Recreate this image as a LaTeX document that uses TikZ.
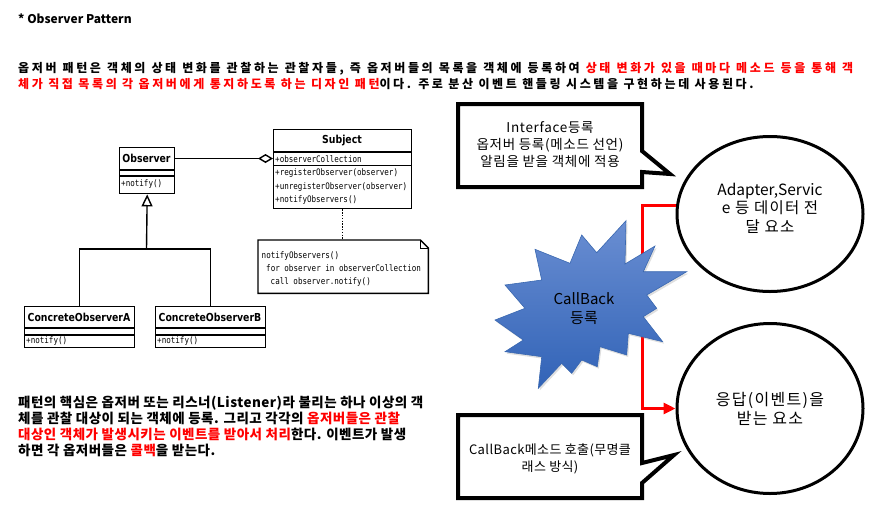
\documentclass[tikz,border=0pt]{standalone}
\usepackage{fontspec}
\setmainfont{Noto Sans CJK KR}
\newfontfamily\umlsans[FakeStretch=0.85]{DejaVu Sans}
\newfontfamily\umlmono[FakeStretch=0.84]{DejaVu Sans Mono}
\usetikzlibrary{arrows.meta,shapes.geometric,shadows,calc}

\definecolor{hilite}{HTML}{FF0000}
\definecolor{starTop}{HTML}{6A8ED2}
\definecolor{starBot}{HTML}{3163B7}
\definecolor{starEdge}{HTML}{3A68B0}

\begin{document}
\begin{tikzpicture}[x=1pt,y=-1pt,
  umlline/.style={line width=1.4pt},
  umlbox/.style={draw, line width=1.4pt, rectangle, inner sep=0pt, anchor=north west},
  umltitle/.style={font=\umlsans\bfseries\fontsize{11}{13}\selectfont, inner sep=0pt},
  umlmember/.style={font=\umlmono\fontsize{9}{13}\selectfont, inner sep=0pt, anchor=west, align=left},
  introline/.style={font=\bfseries\fontsize{12}{16}\selectfont\addfontfeature{LetterSpace=22}, inner sep=0pt, anchor=base west},
  bodyline/.style={font=\bfseries\fontsize{13.5}{16}\selectfont\addfontfeature{LetterSpace=3.5}, inner sep=0pt, anchor=base west},
  callbox/.style={line width=4pt, line join=miter},
  calltext/.style={font=\fontsize{13.5}{17}\selectfont\addfontfeature{LetterSpace=5}, align=center, inner sep=0pt},
  bubble/.style={draw, ellipse, line width=3pt, inner sep=0pt},
  bubbletext/.style={font=\fontsize{15.5}{18.5}\selectfont, align=center, inner sep=0pt},
  linkline/.style={draw=hilite, line width=3pt, line join=miter, -{Triangle[length=12pt,width=11pt]}}
]
\useasboundingbox (0,0) rectangle (892,504);

% ---------------- heading and description ----------------
\node[font=\bfseries\fontsize{12}{14}\selectfont, inner sep=0pt, anchor=base west] (title) at (18,23.5) {* Observer Pattern};

\node[introline] (p1a) at (18,72) {\makebox[835pt][s]{옵저버 패턴은 객체의 상태 변화를 관찰하는 관찰자들, 즉 옵저버들의 목록을 객체에 등록하여 {\color{hilite}상태 변화가 있을 때마다 메소드 등을 통해 객}}};
\node[introline] (p1b) at (18,88) {{\color{hilite}체가 직접 목록의 각 옵저버에게 통지하도록 하는 디자인 패턴}이다. 주로 분산 이벤트 핸들링 시스템을 구현하는데 사용된다.};

% ---------------- UML class diagram ----------------
% Observer
\node[umlbox, minimum width=55pt, minimum height=46pt] (obs) at (119,147) {};
\draw[umlline] ($(obs.north west)+(0,23)$) -- ($(obs.north east)+(0,23)$);
\draw[umlline] ($(obs.north west)+(0,29)$) -- ($(obs.north east)+(0,29)$);
\node[umltitle] (obsT) at (146.5,158.5) {Observer};
\node[umlmember] (obsM) at (121,184.5) {+notify()};

% Subject
\node[umlbox, minimum width=138pt, minimum height=79pt] (subj) at (273,129) {};
\draw[umlline] ($(subj.north west)+(0,23)$) -- ($(subj.north east)+(0,23)$);
\draw[umlline] ($(subj.north west)+(0,36.5)$) -- ($(subj.north east)+(0,36.5)$);
\node[umltitle] (subjT) at (342,140.5) {Subject};
\node[umlmember] (subjA) at (275,159) {+observerCollection};
\node[umlmember] (subjM1) at (275,173.5) {+registerObserver(observer)};
\node[umlmember] (subjM2) at (275,187.5) {+unregisterObserver(observer)};
\node[umlmember] (subjM3) at (275,200.5) {+notifyObservers()};

% concrete observers
\node[umlbox, minimum width=110pt, minimum height=41pt] (cA) at (24,306) {};
\draw[umlline] ($(cA.north west)+(0,22)$) -- ($(cA.north east)+(0,22)$);
\draw[umlline] ($(cA.north west)+(0,29)$) -- ($(cA.north east)+(0,29)$);
\node[umltitle] (cAT) at (79,317) {ConcreteObserverA};
\node[umlmember] (cAM) at (26,341.5) {+notify()};

\node[umlbox, minimum width=110pt, minimum height=41pt] (cB) at (155,306) {};
\draw[umlline] ($(cB.north west)+(0,22)$) -- ($(cB.north east)+(0,22)$);
\draw[umlline] ($(cB.north west)+(0,29)$) -- ($(cB.north east)+(0,29)$);
\node[umltitle] (cBT) at (210,317) {ConcreteObserverB};
\node[umlmember] (cBM) at (157,341.5) {+notify()};

% aggregation Subject <>- Observer
\draw[umlline, -{Diamond[open,length=15pt,width=9pt]}] (obs.east |- obsT) -- (subj.west |- obsT);

% generalisation
\coordinate (jn) at (146.5,249);
\draw[umlline] (cA.north) |- (jn) -| (cB.north);
\draw[umlline, -{Triangle[open,length=12pt,width=11pt]}] (jn) -- (obs.south);

% note attached to Subject
\node[inner sep=0pt, minimum width=170pt, minimum height=53pt, anchor=north west] (note) at (258,240) {};
\draw[umlline, line join=miter] (note.north west) -- ($(note.north east)+(-8,0)$) -- ($(note.north east)+(0,8)$) -- (note.south east) -- (note.south west) -- cycle;
\draw[line width=0.7pt] ($(note.north east)+(-8,0)$) -- ($(note.north east)+(-8,8)$) -- ($(note.north east)+(0,8)$);
\draw[line width=1.4pt, dash pattern=on 1.4pt off 1.4pt] (subj.south) -- (subj.south |- note.north);
\node[umlmember, anchor=north west] (noteT) at (261.5,251) {notifyObservers()\\\hspace*{4.5pt}for observer in observerCollection\\\hspace*{9pt}call observer.notify()};

% closing description
\node[bodyline] (p2a) at (18,407) {패턴의 핵심은 옵저버 또는 리스너(Listener)라 불리는 하나 이상의 객};
\node[bodyline] (p2b) at (18,423) {체를 관찰 대상이 되는 객체에 등록. 그리고 각각의 {\color{hilite}옵저버들은 관찰}};
\node[bodyline] (p2c) at (18,439) {{\color{hilite}대상인 객체가 발생시키는 이벤트를 받아서 처리}한다. 이벤트가 발생};
\node[bodyline] (p2d) at (18,455) {하면 각 옵저버들은 {\color{hilite}콜백}을 받는다.};

% ---------------- callback sketch ----------------
\node[bubble, minimum width=186pt, minimum height=155pt] (c1) at (770,214) {};
\node[bubbletext] (c1t) at (770,208) {Adapter,Servic\\{\addfontfeature{LetterSpace=8}e 등 데이터 전}\\{\addfontfeature{LetterSpace=8}달 요소}};
\node[bubble, minimum width=186pt, minimum height=170pt] (c2) at (770,408.5) {};
\node[bubbletext, font=\fontsize{16}{18.5}\selectfont\addfontfeature{LetterSpace=8}] (c2t) at (770,409) {응답(이벤트)을\\받는 요소};

\coordinate (bend) at (642,300);
\draw[linkline] (c1.175) -- (c1.175 -| bend) |- (c2.west);

% burst
\path[draw=starEdge, line width=0.6pt, top color=starTop, bottom color=starBot,
      drop shadow={opacity=0.25, shadow xshift=1.5pt, shadow yshift=-2pt}]
  (626,220.7) -- (625,264) -- (655,246) -- (643.3,271.7) -- (686.7,271.7) -- (646.7,295)
  -- (656.7,308.3) -- (643.3,316.7) -- (662.7,341.7) -- (628.3,333.3) -- (626.7,355)
  -- (600,346.7) -- (597.3,366.7) -- (581.7,360) -- (571.7,373.3) -- (561.7,363.3)
  -- (538.3,388.3) -- (541.7,356.7) -- (505,351.7) -- (523.3,340) -- (495,320)
  -- (525,308.3) -- (505,285) -- (541.7,280) -- (535,249.3) -- (570,263.3)
  -- (581.7,235) -- (596.7,252.7) -- cycle;
\node[font=\fontsize{15}{19}\selectfont, align=center, inner sep=0pt] (burst) at (584,308.5) {CallBack\\등록};

% speech boxes
\draw[callbox] (458,104) -- (642,104) -- (642,151) -- (670,174) -- (642,172) -- (642,187) -- (458,187) -- cycle;
\node[calltext] (cb1) at (550,145) {Interface등록\\옵저버 등록(메소드 선언)\\알림을 받을 객체에 적용};

\draw[callbox] (458,415) -- (642,415) -- (642,463) -- (674,455) -- (642,483) -- (642,498) -- (458,498) -- cycle;
\node[calltext, font=\fontsize{13}{17}\selectfont\addfontfeature{LetterSpace=3}] (cb2) at (550,458.5) {CallBack메소드 호출(무명클\\래스 방식)};
\end{tikzpicture}
\end{document}
